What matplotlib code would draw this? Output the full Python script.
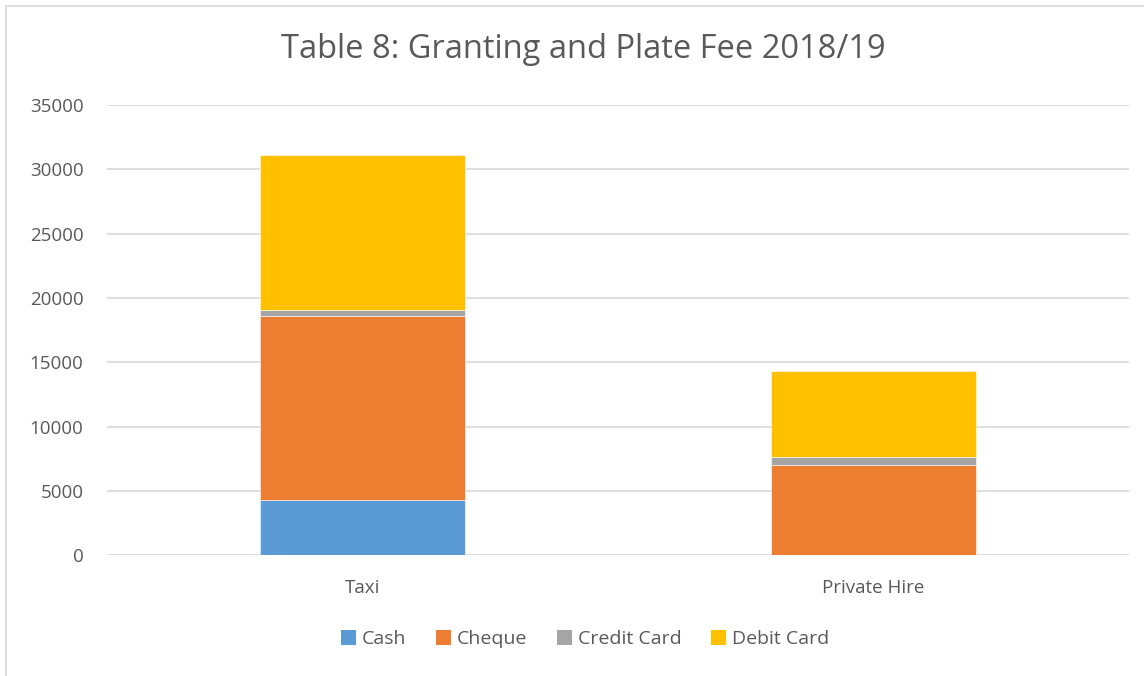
import matplotlib
matplotlib.use("Agg")
import matplotlib.pyplot as plt
from matplotlib.patches import Rectangle, Patch
import numpy as np

categories = ["Taxi", "Private Hire"]
series_names = ["Cash", "Cheque", "Credit Card", "Debit Card"]
cash = [4320, 0]
cheque = [14300, 6995]
credit_card = [420, 670]
debit_card = [12095, 6660]
colors = ["#5B9BD5", "#ED7D31", "#A5A5A5", "#FFC000"]
yticks = [0, 5000, 10000, 15000, 20000, 25000, 30000, 35000]

plt.rcParams['font.family'] = ['Open Sans', 'DejaVu Sans']
txt = "#595959"

fig = plt.figure(figsize=(11.44, 6.76), dpi=100)
fig.patches.append(Rectangle((6/1144, -0.1), 1.2, 1 - 6/676 + 0.1, transform=fig.transFigure,
                             fill=False, edgecolor="#D9D9D9", linewidth=1.2))
ax = fig.add_axes([107/1144, 1 - 555.3/676, 1022/1144, (555.3 - 105)/676])

x = np.arange(len(categories))
bottom = np.zeros(len(categories))
for name, vals, c in zip(series_names, [cash, cheque, credit_card, debit_card], colors):
    ax.bar(x, vals, width=0.4, bottom=bottom, color=c, edgecolor="white", linewidth=0.4, zorder=3)
    bottom += np.array(vals)

ax.set_xlim(-0.5, 1.5)
ax.set_ylim(0, 35000)
ax.set_yticks(yticks)
ax.set_yticklabels([str(v) for v in yticks])
ax.set_xticks(x)
ax.set_xticklabels(categories)
ax.grid(axis="y", color="#D9D9D9", linewidth=1.2, zorder=0)
for s in ax.spines.values():
    s.set_visible(False)
ax.tick_params(axis="both", length=0, labelsize=13.5, colors=txt)
ax.tick_params(axis="y", pad=17)
ax.tick_params(axis="x", pad=17)

fig.text(583/1144, 1 - 50/676, "Table 8: Granting and Plate Fee 2018/19", ha="center", va="center",
         fontsize=23.5, color=txt)

handles = [Patch(facecolor=c, edgecolor="none") for c in colors]
fig.legend(handles, series_names, loc="center", bbox_to_anchor=(585/1144, 1 - 639/676), ncol=4,
           frameon=False, fontsize=14, labelcolor=txt, handlelength=0.8, handleheight=0.8,
           handletextpad=0.3, columnspacing=1.5)

fig.savefig("out.png", dpi=100)
